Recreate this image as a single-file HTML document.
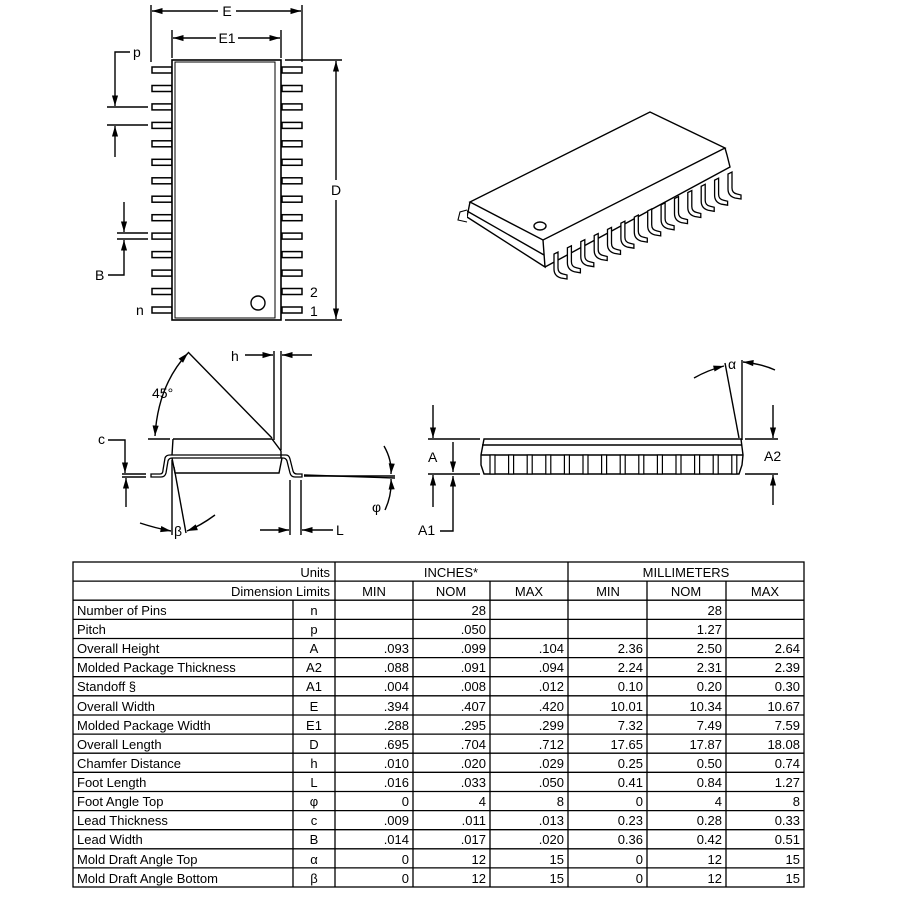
<!DOCTYPE html>
<html><head><meta charset="utf-8"><style>
html,body{margin:0;padding:0;background:#fff}
svg{display:block}
text{font-family:"Liberation Sans",sans-serif;fill:#000}
</style></head><body>
<svg width="900" height="900" viewBox="0 0 900 900" xmlns="http://www.w3.org/2000/svg">
<defs>
<marker id="ar" viewBox="0 0 12 8" refX="12" refY="4" markerWidth="12" markerHeight="7" orient="auto-start-reverse" markerUnits="userSpaceOnUse"><path d="M0,0.5 L12,4 L0,7.5 Z" fill="#000"/></marker>
<rect id="pl" x="0" y="-3" width="20" height="6" fill="#fff" stroke="#000" stroke-width="1.5"/>
<path id="ld" d="M0,-10 L0,6 Q0,11 5,12 L9,13 L9,17 L3,16 Q-4,14 -4,7 L-4,-8 Z" fill="#fff" stroke="#000" stroke-width="1.3"/>
<rect id="sl" x="0" y="0" width="5" height="19" fill="#fff" stroke="#000" stroke-width="1.2"/>
</defs>
<g stroke="#000" stroke-width="1.4" fill="none">
<!-- TOP VIEW -->
<g id="lp">
<use href="#pl" x="152" y="70"/><use href="#pl" x="152" y="88.5"/><use href="#pl" x="152" y="106.9"/><use href="#pl" x="152" y="125.4"/><use href="#pl" x="152" y="143.8"/><use href="#pl" x="152" y="162.3"/><use href="#pl" x="152" y="180.8"/><use href="#pl" x="152" y="199.2"/><use href="#pl" x="152" y="217.7"/><use href="#pl" x="152" y="236.1"/><use href="#pl" x="152" y="254.6"/><use href="#pl" x="152" y="273.1"/><use href="#pl" x="152" y="291.5"/><use href="#pl" x="152" y="310"/>
</g>
<use href="#lp" x="130"/>
<rect x="172" y="60" width="109" height="260" fill="#fff" stroke-width="1.6"/>
<rect x="175" y="62" width="100" height="256" stroke-width="1"/>
<circle cx="258" cy="303" r="7"/>
<line x1="151" y1="5" x2="151" y2="62"/><line x1="302" y1="5" x2="302" y2="62"/>
<line x1="152" y1="11" x2="218" y2="11" marker-start="url(#ar)"/><line x1="236" y1="11" x2="301" y2="11" marker-end="url(#ar)"/>
<line x1="172" y1="30" x2="172" y2="58"/><line x1="281" y1="30" x2="281" y2="58"/>
<line x1="173" y1="38" x2="216" y2="38" marker-start="url(#ar)"/><line x1="238" y1="38" x2="280" y2="38" marker-end="url(#ar)"/>
<line x1="285" y1="60" x2="342" y2="60"/><line x1="285" y1="320" x2="342" y2="320"/>
<line x1="336" y1="61" x2="336" y2="180" marker-start="url(#ar)"/><line x1="336" y1="200" x2="336" y2="319" marker-end="url(#ar)"/>
<polyline points="130,52 115,52 115,106" marker-end="url(#ar)"/>
<line x1="107" y1="107" x2="148" y2="107"/><line x1="107" y1="125" x2="148" y2="125"/>
<line x1="115" y1="157" x2="115" y2="126" marker-end="url(#ar)"/>
<line x1="124" y1="202" x2="124" y2="232" marker-end="url(#ar)"/>
<line x1="117" y1="233" x2="148" y2="233"/><line x1="117" y1="239" x2="148" y2="239"/>
<polyline points="108,275 124,275 124,240" marker-end="url(#ar)"/>

<!-- 3D VIEW -->
<path d="M470,202 L650,112 L725,148 L543,240 Z" fill="#fff"/>
<path d="M470,202 L467,217 L545,267 L543,240 M467,211 L544,255 M545,267 L730,167 L727,155 L725,148" fill="none"/>
<path d="M467,210 L460,212 L458,220 L467,222" fill="#fff" stroke-width="1.1"/>
<ellipse cx="540" cy="226" rx="6" ry="4"/>
<g>
<use href="#ld" x="558" y="262"/><use href="#ld" x="571.4" y="255.8"/><use href="#ld" x="584.8" y="249.7"/><use href="#ld" x="598.2" y="243.5"/><use href="#ld" x="611.5" y="237.4"/><use href="#ld" x="624.9" y="231.2"/><use href="#ld" x="638.3" y="225.1"/><use href="#ld" x="651.7" y="218.9"/><use href="#ld" x="665.1" y="212.8"/><use href="#ld" x="678.5" y="206.6"/><use href="#ld" x="691.8" y="200.5"/><use href="#ld" x="705.2" y="194.3"/><use href="#ld" x="718.6" y="188.2"/><use href="#ld" x="732" y="182"/>
</g>

<!-- SIDE VIEW LEFT -->
<path d="M151,474 L160,474 Q163,474 163,470 L165,458 Q166,455 170,455 L286,455 Q289,455 290,459 L293,471 Q294,474 297,474 L302,474 L302,477 L295,477 Q291,477 290,473 L287,461 Q286,458 283,458 L172,458 Q169,458 168,461 L166,473 Q165,477 161,477 L151,477 Z" fill="#fff" stroke-width="1.3"/>
<path d="M173,439 L272,439 L281,451 L281,458 M173,439 L172,455 M172,458 L175,473 L279,473 L282,458" fill="none"/>
<line x1="188" y1="352" x2="272" y2="438"/>
<line x1="148" y1="439" x2="170" y2="439"/>
<path d="M155,436 Q158,385 188,353" marker-start="url(#ar)" marker-end="url(#ar)"/>
<line x1="274" y1="351" x2="274" y2="440"/><line x1="281" y1="351" x2="281" y2="450"/>
<line x1="245" y1="355" x2="273" y2="355" marker-end="url(#ar)"/><line x1="312" y1="355" x2="282" y2="355" marker-end="url(#ar)"/>
<polyline points="108,440 125,440 125,473" marker-end="url(#ar)"/>
<line x1="122" y1="474" x2="146" y2="474"/><line x1="122" y1="477" x2="146" y2="477"/>
<line x1="126" y1="507" x2="126" y2="478" marker-end="url(#ar)"/>
<line x1="172" y1="460" x2="172" y2="535"/><line x1="174" y1="467" x2="186" y2="533"/>
<path d="M140,523 Q155,528 171,531" marker-end="url(#ar)"/><path d="M215,515 Q200,526 187,531" marker-end="url(#ar)"/>
<line x1="290" y1="480" x2="290" y2="535"/><line x1="301" y1="480" x2="301" y2="535"/>
<line x1="260" y1="530" x2="289" y2="530" marker-end="url(#ar)"/><line x1="333" y1="530" x2="302" y2="530" marker-end="url(#ar)"/>
<line x1="304" y1="475" x2="395" y2="478"/><line x1="304" y1="476" x2="395" y2="476"/>
<path d="M384,446 Q392,460 391,474" marker-end="url(#ar)"/><path d="M385,510 Q392,495 391,479" marker-end="url(#ar)"/>

<!-- SIDE VIEW RIGHT -->
<path d="M484,439 L741,439 L743,455 L742,465 L739,474 L484,474 L481,465 L481,455 Z" fill="#fff"/>
<line x1="482" y1="445" x2="742" y2="445"/><line x1="481" y1="455" x2="743" y2="455"/>
<g>
<use href="#sl" x="490" y="455"/><use href="#sl" x="508.6" y="455"/><use href="#sl" x="527.2" y="455"/><use href="#sl" x="545.8" y="455"/><use href="#sl" x="564.4" y="455"/><use href="#sl" x="583" y="455"/><use href="#sl" x="601.6" y="455"/><use href="#sl" x="620.2" y="455"/><use href="#sl" x="638.8" y="455"/><use href="#sl" x="657.4" y="455"/><use href="#sl" x="676" y="455"/><use href="#sl" x="694.6" y="455"/><use href="#sl" x="713.2" y="455"/><use href="#sl" x="731.8" y="455"/>
</g>
<line x1="428" y1="439" x2="480" y2="439"/><line x1="428" y1="474" x2="480" y2="474"/>
<line x1="433" y1="405" x2="433" y2="438" marker-end="url(#ar)"/><line x1="433" y1="507" x2="433" y2="475" marker-end="url(#ar)"/>
<line x1="453" y1="442" x2="453" y2="472" marker-end="url(#ar)"/>
<polyline points="440,531 453,531 453,476" marker-end="url(#ar)"/>
<line x1="745" y1="439" x2="778" y2="439"/><line x1="745" y1="474" x2="778" y2="474"/>
<line x1="773" y1="405" x2="773" y2="438" marker-end="url(#ar)"/><line x1="773" y1="505" x2="773" y2="475" marker-end="url(#ar)"/>
<line x1="742" y1="360" x2="742" y2="440"/><line x1="725" y1="363" x2="739" y2="438"/>
<path d="M694,378 Q708,370 724,366" marker-end="url(#ar)"/><path d="M775,370 Q762,364 743,362" marker-end="url(#ar)"/>
</g>

<g font-size="14">
<text x="227" y="16" text-anchor="middle">E</text>
<text x="227" y="43" text-anchor="middle">E1</text>
<text x="336" y="195" text-anchor="middle">D</text>
<text x="133" y="57">p</text>
<text x="95" y="280">B</text>
<text x="136" y="315">n</text>
<text x="310" y="297">2</text>
<text x="310" y="316">1</text>
<text x="152" y="398">45°</text>
<text x="231" y="361">h</text>
<text x="98" y="444">c</text>
<text x="174" y="536">β</text>
<text x="336" y="535">L</text>
<text x="372" y="512">φ</text>
<text x="428" y="462">A</text>
<text x="418" y="535">A1</text>
<text x="764" y="461">A2</text>
<text x="728" y="369">α</text>
</g>

<!-- TABLE -->
<g stroke="#000" stroke-width="1.3" fill="none">
<rect x="73" y="562" width="731" height="325"/>
<line x1="73" y1="581.1" x2="804" y2="581.1"/><line x1="73" y1="600.2" x2="804" y2="600.2"/>
<line x1="73" y1="619.4" x2="804" y2="619.4"/><line x1="73" y1="638.5" x2="804" y2="638.5"/><line x1="73" y1="657.6" x2="804" y2="657.6"/><line x1="73" y1="676.7" x2="804" y2="676.7"/><line x1="73" y1="695.8" x2="804" y2="695.8"/><line x1="73" y1="715" x2="804" y2="715"/><line x1="73" y1="734.1" x2="804" y2="734.1"/><line x1="73" y1="753.2" x2="804" y2="753.2"/><line x1="73" y1="772.3" x2="804" y2="772.3"/><line x1="73" y1="791.5" x2="804" y2="791.5"/><line x1="73" y1="810.6" x2="804" y2="810.6"/><line x1="73" y1="829.7" x2="804" y2="829.7"/><line x1="73" y1="848.8" x2="804" y2="848.8"/><line x1="73" y1="867.9" x2="804" y2="867.9"/>
<line x1="293" y1="600.2" x2="293" y2="887"/>
<line x1="335" y1="562" x2="335" y2="887"/><line x1="568" y1="562" x2="568" y2="887"/>
<line x1="413" y1="581.1" x2="413" y2="887"/><line x1="490" y1="581.1" x2="490" y2="887"/>
<line x1="647" y1="581.1" x2="647" y2="887"/><line x1="726" y1="581.1" x2="726" y2="887"/>
</g>
<g font-size="13">
<text x="330" y="577" text-anchor="end">Units</text>
<text x="451" y="577" text-anchor="middle">INCHES*</text>
<text x="686" y="577" text-anchor="middle">MILLIMETERS</text>
<text x="330" y="596" text-anchor="end">Dimension Limits</text>
<text x="374" y="596" text-anchor="middle">MIN</text><text x="451" y="596" text-anchor="middle">NOM</text><text x="529" y="596" text-anchor="middle">MAX</text>
<text x="608" y="596" text-anchor="middle">MIN</text><text x="686" y="596" text-anchor="middle">NOM</text><text x="765" y="596" text-anchor="middle">MAX</text>
</g>
<g font-size="13">
<g text-anchor="start">
<text x="77" y="615">Number of Pins</text><text x="77" y="634">Pitch</text><text x="77" y="653">Overall Height</text><text x="77" y="672">Molded Package Thickness</text><text x="77" y="691">Standoff   §</text><text x="77" y="711">Overall Width</text><text x="77" y="730">Molded Package Width</text><text x="77" y="749">Overall Length</text><text x="77" y="768">Chamfer Distance</text><text x="77" y="787">Foot Length</text><text x="77" y="806">Foot Angle Top</text><text x="77" y="825">Lead Thickness</text><text x="77" y="844">Lead Width</text><text x="77" y="864">Mold Draft Angle Top</text><text x="77" y="883">Mold Draft Angle Bottom</text>
</g>
<g text-anchor="middle">
<text x="314" y="615">n</text><text x="314" y="634">p</text><text x="314" y="653">A</text><text x="314" y="672">A2</text><text x="314" y="691">A1</text><text x="314" y="711">E</text><text x="314" y="730">E1</text><text x="314" y="749">D</text><text x="314" y="768">h</text><text x="314" y="787">L</text><text x="314" y="806">φ</text><text x="314" y="825">c</text><text x="314" y="844">B</text><text x="314" y="864">α</text><text x="314" y="883">β</text>
</g>
<g text-anchor="end">
<text x="486" y="615">28</text><text x="722" y="615">28</text>
<text x="486" y="634">.050</text><text x="722" y="634">1.27</text>
<text x="409" y="653">.093</text><text x="486" y="653">.099</text><text x="564" y="653">.104</text><text x="643" y="653">2.36</text><text x="722" y="653">2.50</text><text x="800" y="653">2.64</text>
<text x="409" y="672">.088</text><text x="486" y="672">.091</text><text x="564" y="672">.094</text><text x="643" y="672">2.24</text><text x="722" y="672">2.31</text><text x="800" y="672">2.39</text>
<text x="409" y="691">.004</text><text x="486" y="691">.008</text><text x="564" y="691">.012</text><text x="643" y="691">0.10</text><text x="722" y="691">0.20</text><text x="800" y="691">0.30</text>
<text x="409" y="711">.394</text><text x="486" y="711">.407</text><text x="564" y="711">.420</text><text x="643" y="711">10.01</text><text x="722" y="711">10.34</text><text x="800" y="711">10.67</text>
<text x="409" y="730">.288</text><text x="486" y="730">.295</text><text x="564" y="730">.299</text><text x="643" y="730">7.32</text><text x="722" y="730">7.49</text><text x="800" y="730">7.59</text>
<text x="409" y="749">.695</text><text x="486" y="749">.704</text><text x="564" y="749">.712</text><text x="643" y="749">17.65</text><text x="722" y="749">17.87</text><text x="800" y="749">18.08</text>
<text x="409" y="768">.010</text><text x="486" y="768">.020</text><text x="564" y="768">.029</text><text x="643" y="768">0.25</text><text x="722" y="768">0.50</text><text x="800" y="768">0.74</text>
<text x="409" y="787">.016</text><text x="486" y="787">.033</text><text x="564" y="787">.050</text><text x="643" y="787">0.41</text><text x="722" y="787">0.84</text><text x="800" y="787">1.27</text>
<text x="409" y="806">0</text><text x="486" y="806">4</text><text x="564" y="806">8</text><text x="643" y="806">0</text><text x="722" y="806">4</text><text x="800" y="806">8</text>
<text x="409" y="825">.009</text><text x="486" y="825">.011</text><text x="564" y="825">.013</text><text x="643" y="825">0.23</text><text x="722" y="825">0.28</text><text x="800" y="825">0.33</text>
<text x="409" y="844">.014</text><text x="486" y="844">.017</text><text x="564" y="844">.020</text><text x="643" y="844">0.36</text><text x="722" y="844">0.42</text><text x="800" y="844">0.51</text>
<text x="409" y="864">0</text><text x="486" y="864">12</text><text x="564" y="864">15</text><text x="643" y="864">0</text><text x="722" y="864">12</text><text x="800" y="864">15</text>
<text x="409" y="883">0</text><text x="486" y="883">12</text><text x="564" y="883">15</text><text x="643" y="883">0</text><text x="722" y="883">12</text><text x="800" y="883">15</text>
</g>
</g>
</svg>
</body></html>
